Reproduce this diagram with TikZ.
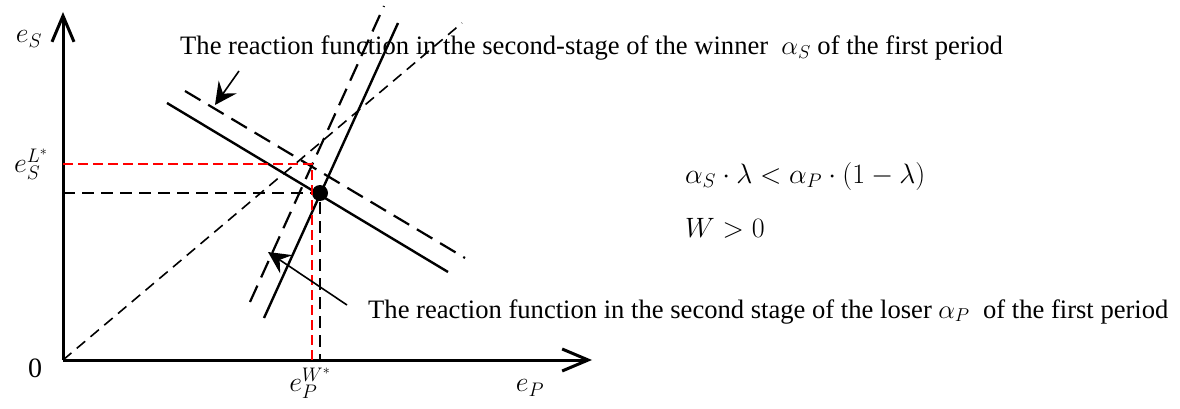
\RequirePackage{fix-cm}
\documentclass[tikz,border=0pt]{standalone}
\usepackage{fontspec}
\setmainfont{Liberation Serif}
\usetikzlibrary{positioning,arrows.meta}

\begin{document}
\begin{tikzpicture}[
  x=1pt, y=-1pt,
  font=\fontsize{26.6}{30}\selectfont,
  axis/.style  = {line width=3pt, -{Straight Barb[length=26pt,width=22pt]}},
  rf/.style    = {line width=2.4pt},
  rfd/.style   = {line width=2.2pt, dash pattern=on 18pt off 9pt},
  diag/.style  = {line width=1.6pt, dash pattern=on 11pt off 7pt},
  guide/.style = {line width=1.8pt, dash pattern=on 12pt off 7pt},
  redg/.style  = {guide, draw=red, dash pattern=on 10pt off 5pt},
  ptr/.style   = {line width=1.6pt, -{Stealth[length=22pt,width=22pt,inset=8pt]}},
  lbl/.style   = {inner sep=0pt, anchor=base west},
  mlbl/.style  = {inner sep=0pt, font=\fontsize{28}{32}\selectfont},
]
\useasboundingbox (0,0) rectangle (1180,409);

% ---------------- axes --------------------------------------------------
\coordinate (o)  at (63,360);
\coordinate (yt) at (63,12);
\coordinate (xt) at (592,360);
\draw[axis] (o) -- (yt);
\draw[axis] (o) -- (xt);

\node[mlbl] (es)   at (29,39)   {$e_S$};
\node[mlbl] (ep)   at (530,388) {$e_P$};
\node[mlbl] (zero) at (35,368)  {0};

% ---------------- reaction functions -----------------------------------
\coordinate (sa) at (167,103);  \coordinate (sb) at (448,272);
\coordinate (sc) at (185,91);   \coordinate (sd) at (465,258);
\coordinate (pa) at (264,318);  \coordinate (pb) at (398,23);
\coordinate (pc) at (250,302);  \coordinate (pd) at (384,6);
\coordinate (dg) at (462,23);

\draw[diag] (o) -- (dg);
\draw[rf]  (sa) -- (sb);
\draw[rfd] (sc) -- (sd);
\draw[rf]  (pa) -- (pb);
\draw[rfd] (pc) -- (pd);

% ---------------- equilibria -------------------------------------------
\node[circle, fill, inner sep=0pt, minimum size=16pt] (eq) at (320,193) {};
\coordinate (eqy) at (63,193);
\coordinate (eqx) at (320,360);
\draw[guide] (eqy) -- (eq.center) -- (eqx);

\coordinate (ly) at (63,164);
\coordinate (lc) at (312,164);
\coordinate (lx) at (312,360);
\draw[redg] (ly) -- (lc) -- (lx);

\node[mlbl] (esl) at (31,164)  {$e_S^{L^*}$};
\node[mlbl] (epw) at (310,383) {$e_P^{W^*}$};

% ---------------- labels -----------------------------------------------
\node[lbl] (wlab) at (180,55)
  {The reaction function in the second-stage of the winner \ $\alpha_S$ of the first period};
\node[lbl] (llab) at (368,318)
  {The reaction function in the second stage of the loser $\alpha_P$ \ of the first period};

\coordinate (wt) at (239,71);  \coordinate (wh) at (215,105);
\coordinate (lt) at (347,305); \coordinate (lh) at (268,252);
\draw[ptr] (wt) -- (wh);
\draw[ptr] (lt) -- (lh);

\node[lbl, font=\fontsize{28}{32}\selectfont] (cond) at (685,183)
  {$\alpha_S\cdot\lambda<\alpha_P\cdot(1-\lambda)$};
\node[lbl, font=\fontsize{28}{32}\selectfont] (wpos) at (685,237) {$W>0$};

\end{tikzpicture}
\end{document}
